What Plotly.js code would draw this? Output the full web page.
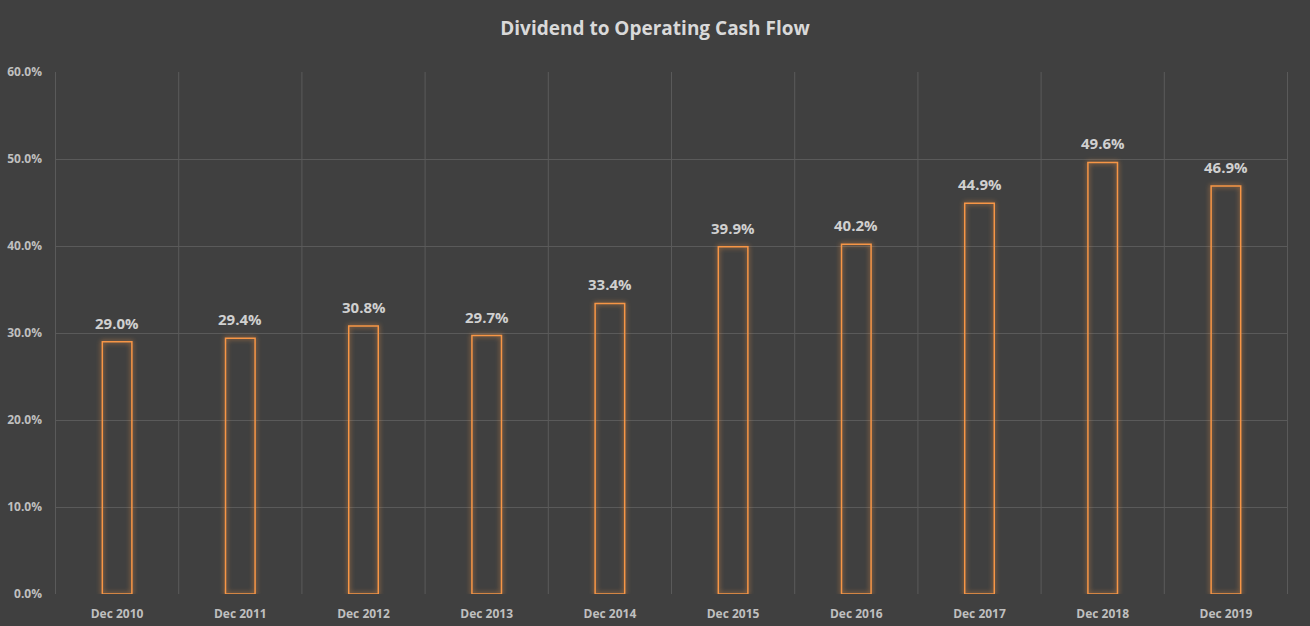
<!DOCTYPE html>
<html>
<head>
<meta charset="utf-8">
<script src="https://cdn.plot.ly/plotly-3.0.1.min.js"></script>
<style>
  html, body { margin: 0; padding: 0; background: #404040; }
  #chart { width: 1310px; height: 626px; }
  #chart .bars .point path { filter: drop-shadow(0 0 2.5px rgba(247,150,70,0.85)); }
</style>
</head>
<body>
<div id="chart"></div>
<script>
const periods = ["Dec 2010", "Dec 2011", "Dec 2012", "Dec 2013", "Dec 2014",
                 "Dec 2015", "Dec 2016", "Dec 2017", "Dec 2018", "Dec 2019"];
const ratios = [0.290, 0.294, 0.308, 0.297, 0.334, 0.399, 0.402, 0.449, 0.496, 0.469];
const yTicks = [0, 0.1, 0.2, 0.3, 0.4, 0.5, 0.6];

const bars = {
    x: periods,
    y: ratios,
    type: "bar",
    width: 0.24,
    marker: {
        color: "rgba(0,0,0,0)",
        line: { color: "#f79646", width: 1.5 }
    },
    hoverinfo: "skip"
};

// data labels sit a bit higher above the bars than plotly's outside text
const labels = periods.map((p, i) => ({
    x: p, y: ratios[i], xref: "x", yref: "y",
    text: (ratios[i] * 100).toFixed(1) + "%",
    showarrow: false, yanchor: "bottom", yshift: 7,
    font: { family: "Open Sans", size: 15, color: "#d0d0d0", weight: "bold" }
}));

const layout = {
    width: 1310,
    height: 626,
    paper_bgcolor: "#404040",
    plot_bgcolor: "#404040",
    margin: { l: 55, r: 22, t: 72, b: 32 },
    title: {
        text: "<b>Dividend to Operating Cash Flow</b>",
        x: 0.5, xanchor: "center",
        y: 0.955, yanchor: "middle",
        font: { family: "Open Sans", size: 19, color: "#d9d9d9" }
    },
    xaxis: {
        type: "category",
        showgrid: false,
        tickfont: { family: "Open Sans", size: 12, color: "#bfbfbf", weight: "bold" },
        ticks: "",
        ticklabelstandoff: 11,
        zeroline: false
    },
    yaxis: {
        range: [0, 0.6],
        tickvals: yTicks,
        tickformat: ".1%",
        gridcolor: "#5a5a5a",
        gridwidth: 1,
        zeroline: false,
        tickfont: { family: "Open Sans", size: 12, color: "#bfbfbf", weight: "bold" },
        ticklabelstandoff: 12
    },
    annotations: labels,
    shapes: periods.concat([""]).map((_, i) => ({
        type: "line", xref: "x", yref: "paper",
        x0: i - 0.5, x1: i - 0.5, y0: 0, y1: 1,
        line: { color: "#5a5a5a", width: 1 }, layer: "below"
    })),
    showlegend: false
};

Plotly.newPlot("chart", [bars], layout, { displayModeBar: false, staticPlot: true });
</script>
</body>
</html>
